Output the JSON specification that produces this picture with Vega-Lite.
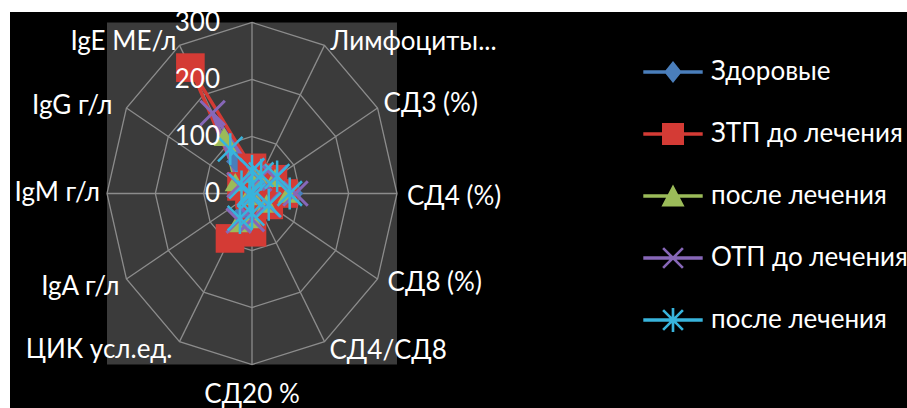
{
  "$schema": "https://vega.github.io/schema/vega-lite/v6.json",
  "width": 897,
  "height": 396,
  "autosize": {"type": "none"},
  "padding": {"left": 10, "top": 12, "right": 0, "bottom": 0},
  "background": "white",
  "view": {"fill": "black", "stroke": null},
  "config": {
    "font": "Lato",
    "legend": {
      "labelFont": "Lato", "labelFontSize": 26, "labelColor": "white", "labelLimit": 400,
      "symbolSize": 484, "symbolStrokeWidth": 0, "symbolOpacity": 1,
      "rowPadding": 36, "labelOffset": 25
    }
  },
  "datasets": {
    "cats": [
      {"k": 0, "label": "", "rings": [100, 200, 300]},
      {"k": 1, "label": "Лимфоциты...", "rings": [100, 200, 300]},
      {"k": 2, "label": "СД3 (%)", "rings": [100, 200, 300]},
      {"k": 3, "label": "СД4 (%)", "rings": [100, 200, 300]},
      {"k": 4, "label": "СД8 (%)", "rings": [100, 200, 300]},
      {"k": 5, "label": "СД4/СД8", "rings": [100, 200, 300]},
      {"k": 6, "label": "СД20 %", "rings": [100, 200, 300]},
      {"k": 7, "label": "ЦИК усл.ед.", "rings": [100, 200, 300]},
      {"k": 8, "label": "IgA г/л", "rings": [100, 200, 300]},
      {"k": 9, "label": "IgM г/л", "rings": [100, 200, 300]},
      {"k": 10, "label": "IgG г/л", "rings": [100, 200, 300]},
      {"k": 11, "label": "IgE МЕ/л", "rings": [100, 200, 300]}
    ],
    "tickvals": [{"t": 0}, {"t": 100}, {"t": 200}, {"t": 300}],
    "vals": [
      {"series": "Здоровые", "k": 0, "v": 35}, {"series": "Здоровые", "k": 1, "v": 30}, {"series": "Здоровые", "k": 2, "v": 55}, {"series": "Здоровые", "k": 3, "v": 85}, {"series": "Здоровые", "k": 4, "v": 35}, {"series": "Здоровые", "k": 5, "v": 5}, {"series": "Здоровые", "k": 6, "v": 25}, {"series": "Здоровые", "k": 7, "v": 40}, {"series": "Здоровые", "k": 8, "v": 5}, {"series": "Здоровые", "k": 9, "v": 5}, {"series": "Здоровые", "k": 10, "v": 20}, {"series": "Здоровые", "k": 11, "v": 65},
      {"series": "ЗТП до лечения", "k": 0, "v": 45}, {"series": "ЗТП до лечения", "k": 1, "v": 32}, {"series": "ЗТП до лечения", "k": 2, "v": 50}, {"series": "ЗТП до лечения", "k": 3, "v": 65}, {"series": "ЗТП до лечения", "k": 4, "v": 40}, {"series": "ЗТП до лечения", "k": 5, "v": 5}, {"series": "ЗТП до лечения", "k": 6, "v": 68}, {"series": "ЗТП до лечения", "k": 7, "v": 91}, {"series": "ЗТП до лечения", "k": 8, "v": 5}, {"series": "ЗТП до лечения", "k": 9, "v": 5}, {"series": "ЗТП до лечения", "k": 10, "v": 25}, {"series": "ЗТП до лечения", "k": 11, "v": 255},
      {"series": "ЗТП после лечения", "k": 0, "v": 35}, {"series": "ЗТП после лечения", "k": 1, "v": 30}, {"series": "ЗТП после лечения", "k": 2, "v": 55}, {"series": "ЗТП после лечения", "k": 3, "v": 75}, {"series": "ЗТП после лечения", "k": 4, "v": 35}, {"series": "ЗТП после лечения", "k": 5, "v": 5}, {"series": "ЗТП после лечения", "k": 6, "v": 45}, {"series": "ЗТП после лечения", "k": 7, "v": 60}, {"series": "ЗТП после лечения", "k": 8, "v": 5}, {"series": "ЗТП после лечения", "k": 9, "v": 5}, {"series": "ЗТП после лечения", "k": 10, "v": 40}, {"series": "ЗТП после лечения", "k": 11, "v": 115},
      {"series": "ОТП до лечения", "k": 0, "v": 40}, {"series": "ОТП до лечения", "k": 1, "v": 30}, {"series": "ОТП до лечения", "k": 2, "v": 55}, {"series": "ОТП до лечения", "k": 3, "v": 90}, {"series": "ОТП до лечения", "k": 4, "v": 38}, {"series": "ОТП до лечения", "k": 5, "v": 5}, {"series": "ОТП до лечения", "k": 6, "v": 45}, {"series": "ОТП до лечения", "k": 7, "v": 55}, {"series": "ОТП до лечения", "k": 8, "v": 5}, {"series": "ОТП до лечения", "k": 9, "v": 5}, {"series": "ОТП до лечения", "k": 10, "v": 30}, {"series": "ОТП до лечения", "k": 11, "v": 163},
      {"series": "ОТП после лечения", "k": 0, "v": 40}, {"series": "ОТП после лечения", "k": 1, "v": 38}, {"series": "ОТП после лечения", "k": 2, "v": 60}, {"series": "ОТП после лечения", "k": 3, "v": 78}, {"series": "ОТП после лечения", "k": 4, "v": 40}, {"series": "ОТП после лечения", "k": 5, "v": 5}, {"series": "ОТП после лечения", "k": 6, "v": 35}, {"series": "ОТП после лечения", "k": 7, "v": 50}, {"series": "ОТП после лечения", "k": 8, "v": 5}, {"series": "ОТП после лечения", "k": 9, "v": 5}, {"series": "ОТП после лечения", "k": 10, "v": 25}, {"series": "ОТП после лечения", "k": 11, "v": 90}
    ]
  },
  "encoding": {
    "x": {"field": "px", "type": "quantitative", "scale": {"domain": [-500.7, 1355.2], "nice": false, "zero": false}, "axis": null},
    "y": {"field": "py", "type": "quantitative", "scale": {"domain": [-376.3, 318.4], "nice": false, "zero": false}, "axis": null}
  },
  "layer": [
    {
      "data": {"name": "vals"},
      "transform": [
        {"calculate": "datum.v * sin(datum.k * PI / 6)", "as": "px"},
        {"calculate": "datum.v * cos(datum.k * PI / 6)", "as": "py"}
      ],
      "mark": {"type": "point", "filled": true},
      "encoding": {
        "color": {
          "field": "series", "type": "nominal",
          "scale": {"domain": ["Здоровые", "ЗТП до лечения", "ЗТП после лечения", "ОТП до лечения", "ОТП после лечения"], "range": ["#4a7ebb", "#d43b35", "#9bbb59", "#8767b8", "#38b4dc"]},
          "legend": {
            "orient": "none", "legendX": 650, "legendY": 47, "title": null,
            "labelExpr": "indexof(datum.label, 'после') >= 0 ? 'после лечения' : datum.label"
          }
        },
        "shape": {
          "field": "series", "type": "nominal",
          "scale": {
            "domain": ["Здоровые", "ЗТП до лечения", "ЗТП после лечения", "ОТП до лечения", "ОТП после лечения"],
            "range": [
              "M-2.7,-0.17H2.7V0.17H-2.7ZM0,-1L0.8,0L0,1L-0.8,0Z",
              "M-2.7,-0.17H2.7V0.17H-2.7ZM-1,-1H1V1H-1Z",
              "M-2.7,-0.17H2.7V0.17H-2.7ZM0,-1.05L1.05,0.95H-1.05Z",
              "M-2.7,-0.17H2.7V0.17H-2.7ZM-0.815,-0.985L0.985,0.815L0.815,0.985L-0.985,-0.815ZM-0.985,0.815L0.815,-0.985L0.985,-0.815L-0.815,0.985Z",
              "M-2.7,-0.17H2.7V0.17H-2.7ZM-0.815,-0.985L0.985,0.815L0.815,0.985L-0.985,-0.815ZM-0.985,0.815L0.815,-0.985L0.985,-0.815L-0.815,0.985ZM-0.12,-1.1H0.12V1.1H-0.12Z"
            ]
          },
          "legend": {
            "orient": "none", "legendX": 650, "legendY": 47, "title": null,
            "labelExpr": "indexof(datum.label, 'после') >= 0 ? 'после лечения' : datum.label"
          }
        }
      }
    },
    {
      "data": {"name": "tickvals"},
      "transform": [{"filter": "datum.t == 300"}, {"calculate": "-datum.t", "as": "lo"}],
      "mark": {"type": "rect", "color": "#3b3b3b"},
      "encoding": {
        "x": {"field": "lo", "type": "quantitative"},
        "x2": {"field": "t"},
        "y": {"field": "lo", "type": "quantitative"},
        "y2": {"field": "t"}
      }
    },
    {
      "data": {"name": "cats"},
      "transform": [
        {"flatten": ["rings"]},
        {"calculate": "datum.rings * sin(datum.k * PI / 6)", "as": "px"},
        {"calculate": "datum.rings * cos(datum.k * PI / 6)", "as": "py"}
      ],
      "mark": {"type": "line", "interpolate": "linear-closed", "stroke": "#8c8c8c", "strokeWidth": 1.3},
      "encoding": {
        "detail": {"field": "rings", "type": "nominal"},
        "order": {"field": "k", "type": "quantitative"}
      }
    },
    {
      "data": {"name": "cats"},
      "transform": [
        {"calculate": "300 * sin(datum.k * PI / 6)", "as": "px"},
        {"calculate": "300 * cos(datum.k * PI / 6)", "as": "py"}
      ],
      "mark": {"type": "rule", "stroke": "#8c8c8c", "strokeWidth": 1.3},
      "encoding": {
        "x": {"datum": 0, "type": "quantitative"},
        "y": {"datum": 0, "type": "quantitative"},
        "x2": {"field": "px"},
        "y2": {"field": "py"}
      }
    },
    {
      "data": {"name": "vals"},
      "transform": [
        {"calculate": "datum.v * sin(datum.k * PI / 6)", "as": "px"},
        {"calculate": "datum.v * cos(datum.k * PI / 6)", "as": "py"}
      ],
      "mark": {"type": "line", "interpolate": "linear-closed", "strokeWidth": 3.5},
      "encoding": {
        "stroke": {"field": "series", "type": "nominal", "scale": {"domain": ["Здоровые", "ЗТП до лечения", "ЗТП после лечения", "ОТП до лечения", "ОТП после лечения"], "range": ["#4a7ebb", "#d43b35", "#9bbb59", "#8767b8", "#38b4dc"]}, "legend": null},
        "order": {"field": "k", "type": "quantitative"}
      }
    },
    {
      "data": {"name": "vals"},
      "transform": [
        {"filter": "datum.series == 'Здоровые'"},
        {"calculate": "datum.v * sin(datum.k * PI / 6)", "as": "px"},
        {"calculate": "datum.v * cos(datum.k * PI / 6)", "as": "py"}
      ],
      "mark": {"type": "point", "shape": "diamond", "filled": true, "size": 420, "color": "#4a7ebb", "opacity": 1}
    },
    {
      "data": {"name": "vals"},
      "transform": [
        {"filter": "datum.series == 'ЗТП до лечения'"},
        {"calculate": "datum.v * sin(datum.k * PI / 6)", "as": "px"},
        {"calculate": "datum.v * cos(datum.k * PI / 6)", "as": "py"}
      ],
      "mark": {"type": "point", "shape": "square", "filled": true, "size": 820, "color": "#d43b35", "opacity": 1}
    },
    {
      "data": {"name": "vals"},
      "transform": [
        {"filter": "datum.series == 'ЗТП после лечения'"},
        {"calculate": "datum.v * sin(datum.k * PI / 6)", "as": "px"},
        {"calculate": "datum.v * cos(datum.k * PI / 6)", "as": "py"}
      ],
      "mark": {"type": "point", "shape": "triangle-up", "filled": true, "size": 450, "color": "#9bbb59", "opacity": 1}
    },
    {
      "data": {"name": "vals"},
      "transform": [
        {"filter": "datum.series == 'ОТП до лечения'"},
        {"calculate": "datum.v * sin(datum.k * PI / 6)", "as": "px"},
        {"calculate": "datum.v * cos(datum.k * PI / 6)", "as": "py"}
      ],
      "mark": {"type": "point", "shape": "M-1,-1L1,1M-1,1L1,-1", "filled": false, "size": 600, "strokeWidth": 3, "color": "#8767b8", "opacity": 1}
    },
    {
      "data": {"name": "vals"},
      "transform": [
        {"filter": "datum.series == 'ОТП после лечения'"},
        {"calculate": "datum.v * sin(datum.k * PI / 6)", "as": "px"},
        {"calculate": "datum.v * cos(datum.k * PI / 6)", "as": "py"}
      ],
      "mark": {"type": "point", "shape": "M-1,-1L1,1M-1,1L1,-1M0,-1.3L0,1.3", "filled": false, "size": 600, "strokeWidth": 2.5, "color": "#38b4dc", "opacity": 1}
    },
    {
      "data": {"name": "tickvals"},
      "transform": [{"calculate": "0", "as": "px"}],
      "mark": {"type": "text", "align": "right", "baseline": "middle", "dx": -32, "dy": 1, "fontSize": 26, "color": "white"},
      "encoding": {
        "y": {"field": "t", "type": "quantitative"},
        "text": {"field": "t", "type": "quantitative"}
      }
    },
    {
      "data": {"name": "cats"},
      "transform": [{"filter": "datum.k == 1 || datum.k == 2"}, {"calculate": "300 * sin(datum.k * PI / 6)", "as": "px"}, {"calculate": "300 * cos(datum.k * PI / 6)", "as": "py"}],
      "mark": {"type": "text", "align": "left", "baseline": "middle", "dx": 6, "dy": -3.5, "fontSize": 26, "color": "white"},
      "encoding": {"text": {"field": "label"}}
    },
    {
      "data": {"name": "cats"},
      "transform": [{"filter": "datum.k == 3 || datum.k == 4"}, {"calculate": "300 * sin(datum.k * PI / 6)", "as": "px"}, {"calculate": "300 * cos(datum.k * PI / 6)", "as": "py"}],
      "mark": {"type": "text", "align": "left", "baseline": "middle", "dx": 10, "dy": 4, "fontSize": 26, "color": "white"},
      "encoding": {"text": {"field": "label"}}
    },
    {
      "data": {"name": "cats"},
      "transform": [{"filter": "datum.k == 5"}, {"calculate": "300 * sin(datum.k * PI / 6)", "as": "px"}, {"calculate": "300 * cos(datum.k * PI / 6)", "as": "py"}],
      "mark": {"type": "text", "align": "left", "baseline": "middle", "dx": 5, "dy": 9.5, "fontSize": 26, "color": "white"},
      "encoding": {"text": {"field": "label"}}
    },
    {
      "data": {"name": "cats"},
      "transform": [{"filter": "datum.k == 6"}, {"calculate": "300 * sin(datum.k * PI / 6)", "as": "px"}, {"calculate": "300 * cos(datum.k * PI / 6)", "as": "py"}],
      "mark": {"type": "text", "align": "center", "baseline": "middle", "dy": 30, "fontSize": 26, "color": "white"},
      "encoding": {"text": {"field": "label"}}
    },
    {
      "data": {"name": "cats"},
      "transform": [{"filter": "datum.k == 7 || datum.k == 8"}, {"calculate": "300 * sin(datum.k * PI / 6)", "as": "px"}, {"calculate": "300 * cos(datum.k * PI / 6)", "as": "py"}],
      "mark": {"type": "text", "align": "right", "baseline": "middle", "dx": -7, "dy": 8, "fontSize": 26, "color": "white"},
      "encoding": {"text": {"field": "label"}}
    },
    {
      "data": {"name": "cats"},
      "transform": [{"filter": "datum.k == 9"}, {"calculate": "300 * sin(datum.k * PI / 6)", "as": "px"}, {"calculate": "300 * cos(datum.k * PI / 6)", "as": "py"}],
      "mark": {"type": "text", "align": "right", "baseline": "middle", "dx": -7, "dy": 0, "fontSize": 26, "color": "white"},
      "encoding": {"text": {"field": "label"}}
    },
    {
      "data": {"name": "cats"},
      "transform": [{"filter": "datum.k == 10"}, {"calculate": "300 * sin(datum.k * PI / 6)", "as": "px"}, {"calculate": "300 * cos(datum.k * PI / 6)", "as": "py"}],
      "mark": {"type": "text", "align": "right", "baseline": "middle", "dx": -14, "dy": -2, "fontSize": 26, "color": "white"},
      "encoding": {"text": {"field": "label"}}
    },
    {
      "data": {"name": "cats"},
      "transform": [{"filter": "datum.k == 11"}, {"calculate": "300 * sin(datum.k * PI / 6)", "as": "px"}, {"calculate": "300 * cos(datum.k * PI / 6)", "as": "py"}],
      "mark": {"type": "text", "align": "right", "baseline": "middle", "dx": -3, "dy": -3, "fontSize": 26, "color": "white"},
      "encoding": {"text": {"field": "label"}}
    }
  ]
}
